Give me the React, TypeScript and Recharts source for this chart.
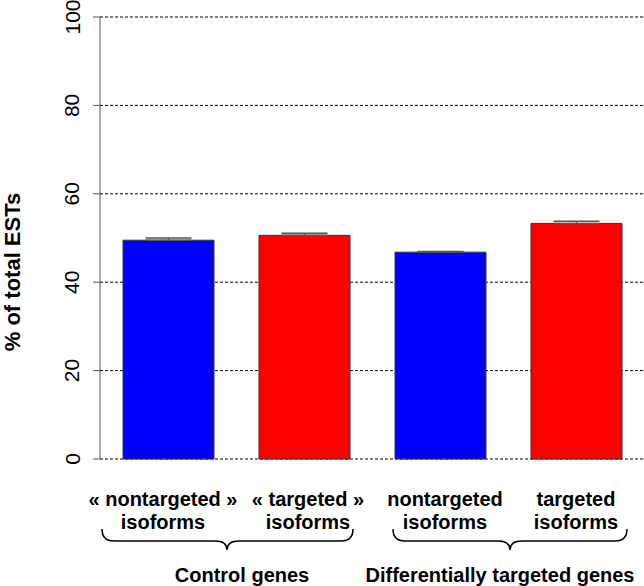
import React from 'react';
import {
  BarChart,
  Bar,
  Cell,
  ErrorBar,
  XAxis,
  YAxis,
  CartesianGrid,
} from 'recharts';

// values
const categories = [
  '« nontargeted »\nisoforms',
  '« targeted »\nisoforms',
  'nontargeted\nisoforms',
  'targeted\nisoforms',
];
const percentEsts = [49.5, 50.6, 46.8, 53.3];
const upperError = [0.5, 0.45, 0.12, 0.5];
const barColors = ['#0000ff', '#ff0000', '#0000ff', '#ff0000'];
const yTicks = [0, 20, 40, 60, 80, 100];
const groupLabels = ['Control genes', 'Differentially targeted genes'];
const groupStarts = [0, 2];

const data = categories.map((name, i) => ({
  name,
  value: percentEsts[i],
  err: [0, upperError[i]],
}));

const FONT = '"Liberation Sans", Arial, Helvetica, sans-serif';

// small horizontal nudges of the labels, as in the original figure
const labelDx = [-5, 4, 5, 0];
const braceSpec = [
  { left: -66, right: 185, tip: 59, labelDx: 74 },
  { left: -47, right: 187, tip: 70, labelDx: 60 },
];

const bracePath = (x1: number, x2: number, xm: number, y0: number) => {
  const y1 = y0 + 12;
  const y2 = y0 + 21;
  const r = 12;
  return `M ${x1} ${y0} Q ${x1} ${y1} ${x1 + r} ${y1} L ${xm - r} ${y1} Q ${xm} ${y1} ${xm} ${y2} Q ${xm} ${y1} ${xm + r} ${y1} L ${x2 - r} ${y1} Q ${x2} ${y1} ${x2} ${y0}`;
};

const XTick: React.FC<any> = ({ x, y, payload, index }) => {
  const lines = String(payload.value).split('\n');
  const g = groupStarts.indexOf(index);
  const cx = x + labelDx[index];
  return (
    <g>
      {lines.map((ln, i) => (
        <text
          key={i}
          x={cx}
          y={y + 32 + i * 23}
          textAnchor="middle"
          dominantBaseline="central"
          fontFamily={FONT}
          fontWeight="bold"
          fontSize={20}
          fill="#000"
        >
          {ln}
        </text>
      ))}
      {g >= 0 && (
        <g>
          <path
            d={bracePath(x + braceSpec[g].left, x + braceSpec[g].right, x + braceSpec[g].tip, y + 62)}
            fill="none"
            stroke="#000"
            strokeWidth={1.5}
          />
          <text
            x={x + braceSpec[g].labelDx}
            y={y + 108}
            textAnchor="middle"
            dominantBaseline="central"
            fontFamily={FONT}
            fontWeight="bold"
            fontSize={20}
            fill="#000"
          >
            {groupLabels[g]}
          </text>
        </g>
      )}
    </g>
  );
};

const YTick: React.FC<any> = ({ y, payload }) => (
  <text
    x={72}
    y={y}
    transform={`rotate(-90, 72, ${y})`}
    textAnchor="middle"
    dominantBaseline="central"
    fontFamily={FONT}
    fontSize={21}
    fill="#000"
  >
    {payload.value}
  </text>
);

const YLabel: React.FC<any> = () => (
  <text
    x={12}
    y={272}
    transform="rotate(-90, 12, 272)"
    textAnchor="middle"
    dominantBaseline="central"
    fontFamily={FONT}
    fontWeight="bold"
    fontSize={22}
    fill="#000"
  >
    % of total ESTs
  </text>
);

export default function App() {
  return (
    <div style={{ position: 'absolute', left: 0, top: 0, background: '#fff' }}>
      <BarChart
        width={644}
        height={586}
        data={data}
        margin={{ top: 17, right: 0, bottom: 0, left: 0 }}
      >
        <CartesianGrid
          vertical={false}
          stroke="#000"
          strokeDasharray="3 2"
        />
        <XAxis
          dataKey="name"
          height={127}
          axisLine={false}
          tickLine={false}
          interval={0}
          tick={<XTick />}
        />
        <YAxis
          width={100}
          domain={[0, 100]}
          ticks={yTicks}
          interval={0}
          stroke="#555"
          tickSize={7}
          tick={<YTick />}
          label={<YLabel />}
        />
        <Bar
          dataKey="value"
          barSize={91}
          stroke="#333"
          strokeWidth={1}
          isAnimationActive={false}
        >
          {data.map((_, i) => (
            <Cell key={i} fill={barColors[i]} />
          ))}
          <ErrorBar
            dataKey="err"
            width={23}
            stroke="#555"
            strokeWidth={1.5}
            isAnimationActive={false}
          />
        </Bar>
      </BarChart>
    </div>
  );
}
